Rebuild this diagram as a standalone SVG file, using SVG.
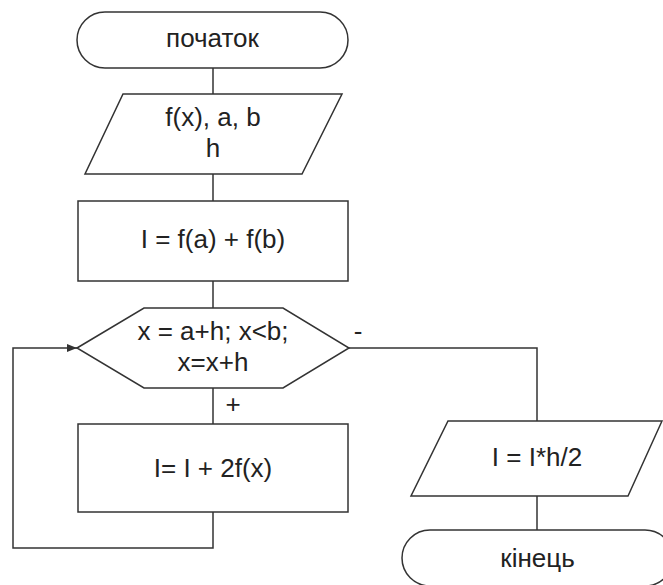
<svg xmlns="http://www.w3.org/2000/svg" width="663" height="585" viewBox="0 0 663 585">
<style>
.s{fill:#fff;stroke:#333;stroke-width:1.5}
.c{fill:none;stroke:#333;stroke-width:1.5}
text{font-family:"Liberation Sans",Arial,sans-serif;font-size:26px;fill:#222;text-anchor:middle}
</style>
<defs>
<marker id="arr" markerWidth="10" markerHeight="8" refX="10" refY="4" orient="auto" markerUnits="userSpaceOnUse">
<path d="M0,0 L10,4 L0,8 Z" fill="#333"/>
</marker>
</defs>
<rect width="663" height="585" fill="#fff"/>
<g id="connectors">
<path class="c" d="M213,68 V94"/>
<path class="c" d="M213,174 V201"/>
<path class="c" d="M213,281 V308"/>
<path class="c" d="M213,388 V424"/>
<path class="c" d="M213,512 V548 H13 V348 H77" marker-end="url(#arr)"/>
<path class="c" d="M349,348 H537 V421"/>
<path class="c" d="M537,496 V530"/>
<text x="233" y="413">+</text>
<text x="358" y="340">-</text>
</g>
<g id="start">
<rect class="s" x="77" y="12" width="271" height="56" rx="28"/>
<text x="212.5" y="47">початок</text>
</g>
<g id="input">
<path class="s" d="M123,94 H342 L302,174 H85 Z"/>
<text x="213" y="126">f(x), a, b</text>
<text x="213" y="157">h</text>
</g>
<g id="init">
<rect class="s" x="78" y="201" width="270" height="80"/>
<text x="213" y="248">I = f(a) + f(b)</text>
</g>
<g id="loop">
<path class="s" d="M77,348 L144,308 H283 L349,348 L283,388 H144 Z"/>
<text x="213" y="340">x = a+h; x&lt;b;</text>
<text x="213" y="371">x=x+h</text>
</g>
<g id="body">
<rect class="s" x="78" y="424" width="270" height="88"/>
<text x="213" y="477">I= I + 2f(x)</text>
</g>
<g id="output">
<path class="s" d="M448,421 H662 L628,496 H411 Z"/>
<text x="537" y="466">I = I*h/2</text>
</g>
<g id="end">
<rect class="s" x="402" y="530" width="271" height="56" rx="28"/>
<text x="537.5" y="567">кінець</text>
</g>
</svg>
